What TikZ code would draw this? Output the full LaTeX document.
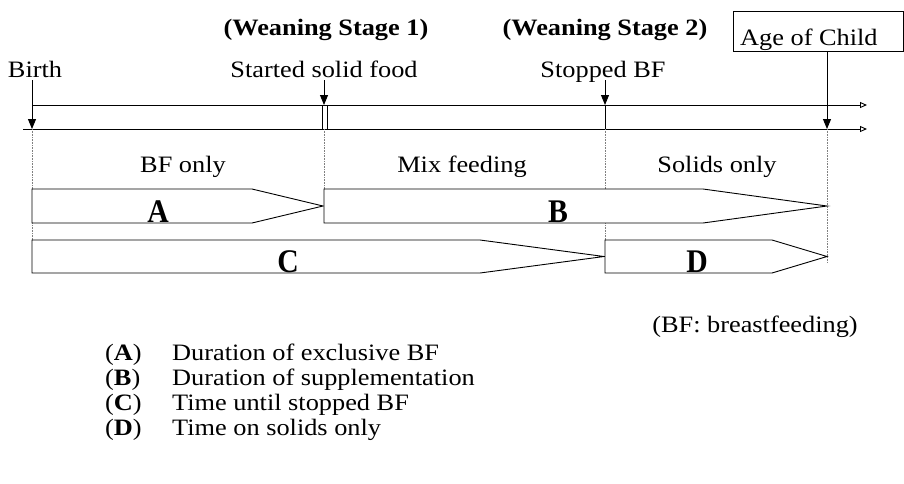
\documentclass[tikz,border=0pt]{standalone}
\usepackage{fontspec}
\setmainfont{Liberation Serif}[FakeStretch=1.12]
\newfontfamily\letfont{Liberation Serif}[FakeStretch=0.9]
\usetikzlibrary{arrows.meta}
\tikzset{
  txt/.style={inner sep=0pt, font=\fontsize{23.5}{26}\selectfont},
  btxt/.style={inner sep=0pt, font=\fontsize{23.5}{26}\selectfont\bfseries},
  bigl/.style={inner sep=0pt, anchor=base, font=\fontsize{33}{36}\selectfont\letfont\bfseries},
  axis/.style={line width=0.9pt, -{Triangle[open, length=7pt, width=6pt]}},
  down/.style={line width=0.9pt, -{Triangle[length=10pt, width=8pt]}},
  guide/.style={line width=0.6pt, densely dotted, gray},
  bar/.style={line width=0.9pt, fill=white},
}
\begin{document}
\begin{tikzpicture}[x=1pt,y=-1pt]
\useasboundingbox (0,0) rectangle (904,483);
% headings
\node[btxt] (w1) at (326,30) {(Weaning Stage 1)};
\node[btxt] (w2) at (605,30) {(Weaning Stage 2)};
\node[txt, anchor=west] (age) at (740,40) {Age of Child};
\draw[line width=0.8pt] (733,11) rectangle (903.5,51);
\coordinate (agebot) at (827,51);
% event labels
\node[txt, anchor=base] (birth) at (35,77) {Birth};
\node[txt, anchor=base] (solid) at (324,77) {Started solid food};
\node[txt, anchor=base] (stop) at (603,77) {Stopped BF};
% axes
\coordinate (t0) at (33,105);
\coordinate (t1) at (867,105);
\coordinate (b0) at (23,129);
\coordinate (b1) at (867,129);
\draw[axis] (t0) -- (t1);
\draw[axis] (b0) -- (b1);
% event arrows
\coordinate (pb) at (32,129);
\coordinate (ps) at (324,105);
\coordinate (pt) at (605,105);
\coordinate (pa) at (827,129);
\draw[down] (32,80) -- (pb);
\draw[down] (324,80) -- (ps);
\draw[down] (605,80) -- (pt);
\draw[down] (agebot) -- (pa);
\draw[line width=0.8pt] (322,105) rectangle (327.5,129);
\draw[line width=0.9pt] (pt) -- (605,129);
% guides
\draw[guide] (pb) -- (32,240);
\draw[guide] (324,129) -- (324,189);
\draw[guide] (605,129) -- (605,240);
\draw[guide] (pa) -- (827,262);
% period labels
\node[txt] (l1) at (183,167) {BF only};
\node[txt] (l2) at (462,167) {Mix feeding};
\node[txt] (l3) at (717,167) {Solids only};
% bars
\draw[bar] (32,189) -- (252,189) -- (323,206) -- (252,223) -- (32,223) -- cycle;
\draw[bar] (324,189) -- (703,189) -- (827,206) -- (703,223) -- (324,223) -- cycle;
\draw[bar] (32,240) -- (480,240) -- (604,256.5) -- (480,273) -- (32,273) -- cycle;
\draw[bar] (605,240) -- (772,240) -- (827,256.5) -- (772,273) -- (605,273) -- cycle;
\node[bigl] (A) at (158,222) {A};
\node[bigl] (B) at (558,222) {B};
\node[bigl] (C) at (288,272) {C};
\node[bigl] (D) at (697,272) {D};
% note
\node[txt] (note) at (755,327) {(BF: breastfeeding)};
% legend
\node[txt, anchor=base west] (kA) at (105,360) {(\textbf{A})};
\node[txt, anchor=base west] (kB) at (105,385) {(\textbf{B})};
\node[txt, anchor=base west] (kC) at (105,410) {(\textbf{C})};
\node[txt, anchor=base west] (kD) at (105,435) {(\textbf{D})};
\node[txt, anchor=base west] (dA) at (172,360) {Duration of exclusive BF};
\node[txt, anchor=base west] (dB) at (172,385) {Duration of supplementation};
\node[txt, anchor=base west] (dC) at (172,410) {Time until stopped BF};
\node[txt, anchor=base west] (dD) at (172,435) {Time on solids only};
\end{tikzpicture}
\end{document}
